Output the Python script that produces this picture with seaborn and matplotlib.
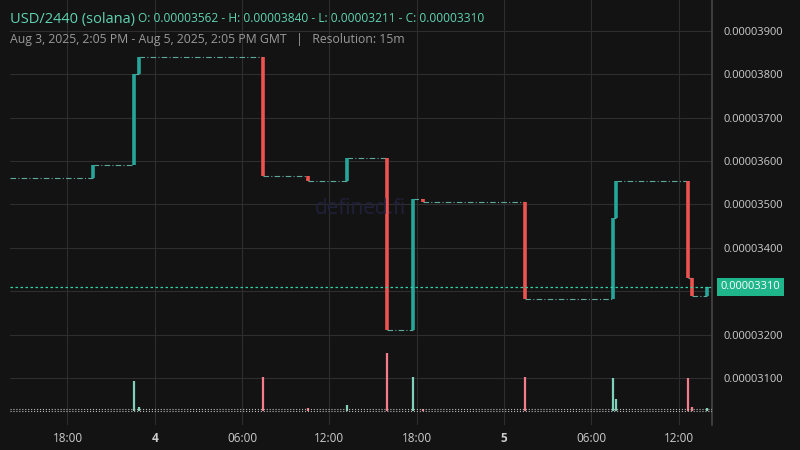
import numpy as np
import matplotlib.pyplot as plt
import seaborn as sns

# candle times (hours since Aug 3 00:00 GMT), open/close prices, volumes
times = [19.75, 22.55, 22.95, 31.45, 34.55, 37.2, 39.95, 41.75, 42.45, 49.45, 55.5, 55.7, 60.65, 60.95, 61.95]
opens = [3562, 3590, 3800, 3840, 3565, 3555, 3607, 3211, 3512, 3505, 3282, 3468, 3555, 3330, 3290]
closes = [3590, 3800, 3840, 3565, 3555, 3607, 3211, 3512, 3505, 3282, 3468, 3555, 3330, 3290, 3310]
volumes = [0, 30, 4, 34, 3, 6, 58, 34, 2, 34, 33, 12, 33, 4, 3]
start_price = 3562
t_start, t_end = 14.05, 62.3
last_price = 3310

xticks = [18, 24, 30, 36, 42, 48, 54, 60]
xlabels = ['18:00', '4', '06:00', '12:00', '18:00', '5', '06:00', '12:00']
yticks = [3100, 3200, 3300, 3400, 3500, 3600, 3700, 3800, 3900]

UP, DOWN = '#26a69a', '#ef5350'
BG = '#131313'
sns.set_theme(style='dark', rc={'axes.facecolor': BG, 'figure.facecolor': BG,
                                 'font.family': 'Open Sans'})

fig = plt.figure(figsize=(8, 4.5), dpi=100)
ax = fig.add_axes([10 / 800, 25 / 450, 702 / 800, 425 / 450])
vax = fig.add_axes(ax.get_position(), sharex=ax)
vax.patch.set_alpha(0)

s = 1e-8
y_lo, y_hi = 2992, 3971
ax.set_ylim(y_lo * s, y_hi * s)
ax.set_xlim(t_start, t_end)

# flat stretches between candles
prev_t, prev_p = t_start, start_price
for t, o, c in zip(times, opens, closes):
    ax.hlines(prev_p * s, prev_t, t, color='#5fa89c', lw=0.8, linestyles=(0, (5, 2, 1, 2)))
    prev_t, prev_p = t, c
ax.hlines(prev_p * s, prev_t, t_end, color='#5fa89c', lw=0.8, linestyles=(0, (5, 2, 1, 2)))

for t, o, c, v in zip(times, opens, closes, volumes):
    col = UP if c >= o else DOWN
    ax.vlines(t, o * s, c * s, color=col, lw=2.6)
    if v > 0:
        vax.vlines(t, 0, v, color='#7fd1b9' if c >= o else '#f77c8a', lw=1.6)

vax.set_ylim(-14, 411)
vax.axhline(0, color='#bbbbbb', lw=0.8, ls=':')
vax.axhline(2, color='#bbbbbb', lw=0.8, ls=':')
vax.set_yticks([])
vax.tick_params(labelbottom=False, length=0)
vax.grid(False)
for sp in vax.spines.values():
    sp.set_visible(False)

ax.axhline(last_price * s, color='#2bd4a4', lw=0.9, ls=(0, (2, 2)))

ax.set_xticks(xticks)
ax.set_xticklabels(xlabels, color='#cccccc', fontsize=8.5)
for lbl in ax.get_xticklabels():
    if lbl.get_text() in ('4', '5'):
        lbl.set_fontweight('bold')
ax.set_yticks([v * s for v in yticks])
ax.set_yticklabels([f'{v * s:.8f}' for v in yticks], color='#cccccc', fontsize=8)
ax.yaxis.tick_right()
ax.tick_params(length=0, pad=8)
ax.tick_params(axis='x', pad=5)
ax.grid(True, color='#2e2e2e', lw=0.8)
for k, sp in ax.spines.items():
    sp.set_visible(k == 'right')
ax.spines['right'].set_color('#444444')

ax.text(1.012, (last_price - y_lo) / (y_hi - y_lo), f'{last_price * s:.8f}',
        transform=ax.transAxes, va='center', ha='left', fontsize=8, color='white',
        bbox=dict(boxstyle='square,pad=0.35', fc='#1fb68c', ec='none'))

ax.text(0.5, 0.51, 'defined.fi', transform=ax.transAxes, ha='center', va='center',
        fontsize=15, color='#20203a')

fig.text(10 / 800, 1 - 19 / 450, 'USD/2440 (solana)', color='#5fd3b0', fontsize=10.5, va='center')
fig.text(138 / 800, 1 - 19 / 450, 'O: 0.00003562 - H: 0.00003840 - L: 0.00003211 - C: 0.00003310',
         color='#5fd3b0', fontsize=8.6, va='center')
fig.text(10 / 800, 1 - 40 / 450,
         'Aug 3, 2025, 2:05 PM - Aug 5, 2025, 2:05 PM GMT   |   Resolution: 15m',
         color='#999999', fontsize=8.8, va='center')

fig.savefig('out.png', dpi=100, facecolor=BG)
